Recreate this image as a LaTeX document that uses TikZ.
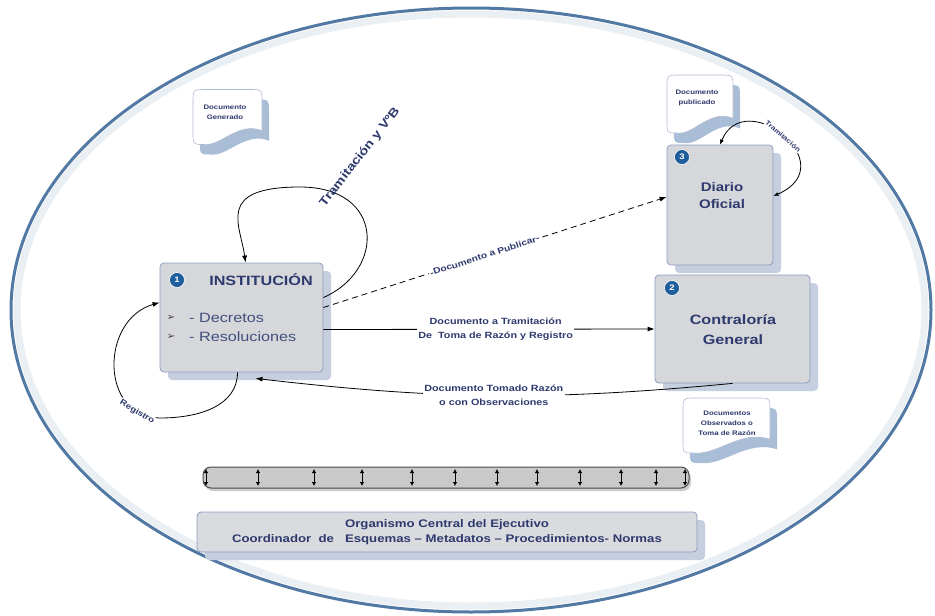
\documentclass[tikz,border=0pt]{standalone}
\usepackage{fontspec}
\setmainfont{Liberation Sans}[FakeStretch=1.2]
\newfontfamily\symfont{DejaVu Sans}
\usetikzlibrary{arrows.meta,shadows}
\definecolor{navy}{HTML}{2E3A6E}
\definecolor{boxgray}{HTML}{D6D7DB}
\definecolor{boxline}{HTML}{8C9CC0}
\definecolor{shadowblue}{HTML}{C5CFDF}
\definecolor{numblue}{HTML}{1E5E9C}
\definecolor{rimblue}{HTML}{5279A3}
\definecolor{callshadow}{HTML}{A9BED6}
\definecolor{bargray}{HTML}{C9C9C9}
% callout outline: half width, half height
\tikzset{callout_path/.style 2 args={insert path={(-#1,-#2+13) .. controls (-#1,-#2) .. (-#1+13,-#2) -- (#1-13,-#2) .. controls (#1,-#2) .. (#1,-#2+13) -- (#1,0.5*#2) .. controls (0.3*#1,0.15*#2) and (-0.2*#1,1.1*#2) .. (-#1+10,#2) .. controls (-#1,#2) .. (-#1,#2-12) -- cycle}}}
\begin{document}
\begin{tikzpicture}[x=1pt, y=-1pt, >={Latex[length=7pt,width=5pt]},
  box_style/.style={draw=boxline, fill=boxgray, rounded corners=4pt, line width=0.8pt, drop shadow={shadow xshift=8pt, shadow yshift=-8pt, fill=shadowblue, opacity=1}},
  num_style/.style={circle, fill=numblue, draw=white, line width=0.6pt, text=white, font=\bfseries\fontsize{8}{8}\selectfont, inner sep=0pt, minimum size=15pt},
  edge_style/.style={draw=black, line width=0.8pt},
  label_style/.style={text=navy, font=\bfseries\fontsize{9}{14}\selectfont, fill=white, inner sep=1.5pt, align=center},
  call_style/.style={fill=white, draw=boxline!70, line width=0.6pt},
  call_text/.style={text=navy, font=\bfseries\fontsize{6.5}{10}\selectfont, align=center},
  ring_style/.style={draw=rimblue, line width=3pt, fill=white},
  mark_style/.style={{Latex[length=4pt,width=4.5pt]}-{Latex[length=4pt,width=4.5pt]}, line width=0.8pt}]
  \useasboundingbox (0,0) rectangle (935,616);
  \fill[white] (0,0) rectangle (935,616);
  % outer ring
  \draw[ring_style] (471,310) ellipse [x radius=460, y radius=302];
  \draw[rimblue!12, line width=7pt] (471,310) ellipse [x radius=454, y radius=296];
  % callouts
  \begin{scope}[shift={(227.5,117)}]
    \fill[callshadow, shift={(7,10)}] [callout_path={34.5}{27.5}];
    \filldraw[call_style] [callout_path={34.5}{27.5}];
    \node[call_text] (gen) at (-2.5,-5) {Documento\\Generado};
  \end{scope}
  \begin{scope}[shift={(700,104)}]
    \fill[callshadow, shift={(7,10)}] [callout_path={33}{29}];
    \filldraw[call_style] [callout_path={33}{29}];
    \node[call_text] (pub) at (-3,-6) {Documento\\publicado};
  \end{scope}
  \begin{scope}[shift={(726.5,425.5)}]
    \fill[callshadow, shift={(7,10)}] [callout_path={43.5}{27.5}];
    \filldraw[call_style] [callout_path={43.5}{27.5}];
    \node[call_text] (obs) at (0.5,-2.5) {Documentos\\Observados o\\Toma de Razón};
  \end{scope}
  % main boxes
  \draw
    (241.5,317.5) node[box_style, minimum width=163pt, minimum height=109pt] (inst) {}
    (720,205) node[box_style, minimum width=106pt, minimum height=120pt] (dof) {}
    (732.5,329) node[box_style, minimum width=155pt, minimum height=108pt] (cgr) {};
  \draw
    (177,280) node[num_style] (n1) {1}
    (672,288) node[num_style] (n2) {2}
    (682,157) node[num_style] (n3) {3};
  \node[text=navy, font=\bfseries\fontsize{13.5}{16}\selectfont] (inst_title) at (261,280) {INSTITUCIÓN};
  \node[text=black!75, font=\symfont\fontsize{10}{10}\selectfont] (b1) at (171,318) {➢};
  \node[text=black!75, font=\symfont\fontsize{10}{10}\selectfont] (b2) at (171,337) {➢};
  \node[anchor=west, text=navy!90, font=\fontsize{13.5}{16}\selectfont, inner sep=0pt] (dec) at (189,318) {- Decretos};
  \node[anchor=west, text=navy!90, font=\fontsize{13.5}{16}\selectfont, inner sep=0pt] (res) at (189,337) {- Resoluciones};
  \node[text=navy, align=center, font=\bfseries\fontsize{12.5}{17}\selectfont] (dof_txt) at (722,196) {Diario\\Oficial};
  \node[text=navy, align=center, font=\bfseries\fontsize{13.5}{20}\selectfont] (cgr_txt) at (733,330) {Contraloría\\General};
  % loop points
  \coordinate (tv_top) at (300,187);
  \coordinate (reg_bot) at (160,418);
  \begin{scope}[->]
    \draw[edge_style] ([yshift=20pt]inst.east) .. controls +(62,-27) and +(85,0) .. (tv_top)
      .. controls +(-85,0) and +(-5,-38) .. ([xshift=4pt]inst.north);
    \draw[edge_style] ([xshift=-4pt]inst.south) .. controls +(0,33) and +(40,0) .. (reg_bot)
      .. controls +(-60,0) and +(-60,17.5) .. ([yshift=15pt]inst.west)
      node[pos=0.15, sloped, fill=white, inner sep=1pt, text=navy, font=\bfseries\fontsize{8}{8}\selectfont] (reg_lbl) {Registro};
    \draw[edge_style, <->, >={Latex[length=5pt,width=4pt]}] ([yshift=9pt]dof.east) .. controls +(72,-31) and +(25,-60) .. (dof.north)
      node[pos=0.5, sloped, fill=white, inner sep=1pt, text=navy, font=\bfseries\fontsize{6.5}{6.5}\selectfont] (tr_lbl) {Tramitación};
    \draw[edge_style, dash pattern=on 6pt off 4pt] ([yshift=10pt]inst.east) to
      node[pos=0.47, sloped, label_style, font=\bfseries\fontsize{8.5}{10}\selectfont] {-Documento a Publicar-} ([yshift=8pt]dof.west);
    \draw[edge_style] ([yshift=-12pt]inst.east) to
      node[pos=0.52, label_style] {Documento a Tramitación\\De~~Toma de Razón y Registro} (cgr.west);
    \draw[edge_style] (cgr.south) to[bend left=6]
      node[midway, label_style] {Documento Tomado Razón\\o con Observaciones} ([xshift=14pt,yshift=-6pt]inst.south);
  \end{scope}
  \node[rotate=52, text=navy, font=\bfseries\fontsize{12}{12}\selectfont] (tv_lbl) at (360,157) {Tramitación y VºB};
  % bus bar
  \node[draw=black!70, fill=bargray, rounded corners=8pt, line width=1pt, minimum width=486pt, minimum height=21pt,
    drop shadow={shadow xshift=2pt, shadow yshift=-3pt, fill=black!20, opacity=1}] (bus) at (446,477.5) {};
  \foreach \x in {206,258,314,362,412,455,497,537,580,621,656,685}
    \draw[mark_style] (\x,469) -- (\x,486);
  % central body
  \node[box_style, fill=boxgray!90!white, minimum width=500pt, minimum height=40pt, text=navy, align=center,
    font=\bfseries\fontsize{11}{14.5}\selectfont] (org) at (447,532)
    {Organismo Central del Ejecutivo\\Coordinador~~de~~~Esquemas – Metadatos – Procedimientos- Normas};
\end{tikzpicture}
\end{document}
